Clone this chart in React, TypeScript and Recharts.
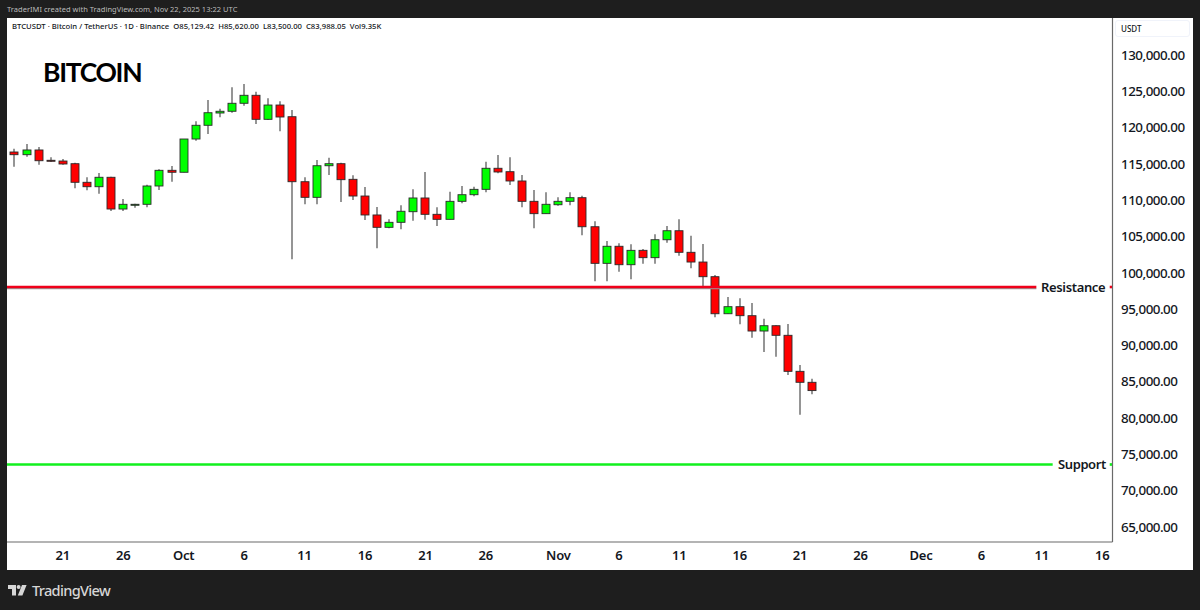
import React from "react";
import { ComposedChart, Bar, XAxis, YAxis, ReferenceLine } from "recharts";

const opens = [116840,116470,117120,115700,115600,115230,112670,112060,113360,108990,109580,109640,112160,114320,114050,118630,120520,122210,122450,123550,124650,121340,123310,121700,112750,110600,114950,115230,113080,110780,108170,106470,107160,108620,110510,108260,107570,110050,110960,111700,114600,114130,112850,110050,108350,109580,110050,110550,106550,101510,103860,101320,103300,102290,104760,106000,103030,101690,99670,94570,95540,94300,92190,92920,91600,86640,85129];
const highs = [117300,117940,117530,116110,115880,115370,113360,113950,113440,110370,109720,112340,114460,114910,118630,121070,124000,122800,125750,126200,125140,124240,123820,122620,113360,115740,116060,115370,113630,112020,109270,107570,109500,111700,114090,109230,111370,112160,112060,115510,116430,116110,113670,111610,111290,110600,111290,110820,107300,104590,104270,104130,103480,105510,106650,107570,105320,104170,99900,96870,96700,96050,93890,92980,93160,87510,85620];
const lows = [114820,116190,115090,115460,115090,111840,111570,111100,108720,108720,109170,109230,111610,112750,114050,118400,119320,121620,122250,123220,120700,121250,119690,102070,109640,109640,113670,109960,110230,107480,103580,106330,106200,107380,107520,106650,107570,109780,110740,111290,113910,112300,109230,106330,108350,109450,109500,105370,99040,99040,100360,99310,101460,101460,104350,102560,100830,98020,94080,94530,93110,91270,89300,88650,86130,80670,83500];
const closes = [116470,117120,115640,115600,115190,112670,112060,113360,108990,109640,109640,112160,114320,114050,118630,120520,122250,122450,123550,124650,121340,123310,121660,112750,110600,114950,115230,113030,110780,108170,106470,107160,108680,110510,108260,107570,110050,110960,111700,114600,114090,112850,110050,108350,109640,110050,110550,106550,101510,103860,101320,103300,102290,104760,106000,103030,101690,99670,94570,95540,94300,92190,92920,91600,86640,85129,83988];

const priceTicks = [65000,70000,75000,80000,85000,90000,95000,100000,105000,110000,115000,120000,125000,130000];
const dayTicks = [4,9,14,19,24,29,34,39,45,50,55,60,65,70,75,80,85,90];
const dayLabels = ["21","26","Oct","6","11","16","21","26","Nov","6","11","16","21","26","Dec","6","11","16"];

const resistanceLevel = 98250;
const supportLevel = 73810;
const legendText = "BTCUSDT · Bitcoin / TetherUS · 1D · Binance";
const legendValues = "O85,129.42  H85,620.00  L83,500.00  C83,988.05  Vol9.35K";

const rows = opens.map((o, i) => ({
  day: i,
  open: o,
  close: closes[i],
  high: highs[i],
  low: lows[i],
  range: [lows[i], highs[i]],
}));

const font = "'Noto Sans', sans-serif";

function Candle(props: any) {
  const { x, y, width, height, payload } = props;
  const { open, close, high, low } = payload;
  const k = height / (high - low);
  const cx = Math.round(x + width / 2);
  const top = y + (high - Math.max(open, close)) * k;
  const bot = y + (high - Math.min(open, close)) * k;
  const up = close >= open;
  return (
    <g>
      <line x1={cx} x2={cx} y1={y} y2={y + height} stroke="#5c5c5c" strokeWidth={1.3} />
      <rect
        x={cx - 4}
        y={top}
        width={8}
        height={Math.max(bot - top, 1)}
        fill={up ? "#00ff00" : "#ff0000"}
        stroke="#2a2a2a"
        strokeWidth={0.9}
      />
    </g>
  );
}

function PriceTick(props: any) {
  const { y, payload } = props;
  return (
    <text x={1121} y={y - 1.6} dy={4.8} fontSize={13.4} letterSpacing={-0.5} fontFamily={font} fill="#131722" fontWeight={500}>
      {payload.value.toLocaleString("en-US", { minimumFractionDigits: 2 })}
    </text>
  );
}

function DayTick(props: any) {
  const { x, y, payload } = props;
  const label = dayLabels[dayTicks.indexOf(payload.value)];
  return (
    <text x={x} y={y + 8} textAnchor="middle" fontSize={13} letterSpacing={-0.2} fontFamily={font} fill="#131722" fontWeight={600}>
      {label}
    </text>
  );
}

const abs = (left: number, top: number, extra: React.CSSProperties = {}): React.CSSProperties => ({
  position: "absolute",
  left,
  top,
  whiteSpace: "pre",
  fontFamily: font,
  lineHeight: 1,
  ...extra,
});

export default function App() {
  return (
    <div style={{ position: "absolute", left: 0, top: 0, width: 1200, height: 610, background: "#1e1e1e", overflow: "hidden" }}>
      <div style={{ position: "absolute", left: 7, top: 18, width: 1186, height: 552, background: "#fff" }} />
      <div style={abs(7, 6, { fontSize: 7.5, color: "#bcbcbc", letterSpacing: 0.02 })}>
        TraderIMI created with TradingView.com, Nov 22, 2025 13:22 UTC
      </div>
      <div style={{ position: "absolute", left: 0, top: 0 }}>
        <ComposedChart
          width={1200}
          height={610}
          data={rows}
          margin={{ top: 18, right: 7, bottom: 40, left: 7 }}
        >
          <XAxis
            dataKey="day"
            type="number"
            domain={[-0.62, 90.85]}
            allowDataOverflow
            ticks={dayTicks}
            interval={0}
            height={28}
            tick={<DayTick />}
            tickLine={false}
            tickMargin={4}
            axisLine={{ stroke: "#6a6a6a", strokeWidth: 1.2 }}
          />
          <YAxis
            orientation="right"
            type="number"
            domain={[63138, 135293]}
            allowDataOverflow
            ticks={priceTicks}
            interval={0}
            width={80.5}
            tick={<PriceTick />}
            tickLine={false}
            axisLine={{ stroke: "#6a6a6a", strokeWidth: 1.2 }}
          />
          <ReferenceLine
            segment={[{ x: -0.62, y: resistanceLevel - 220 }, { x: 84.55, y: resistanceLevel - 220 }]}
            stroke="#9a9a9a"
            strokeWidth={1.2}
          />
          <ReferenceLine
            segment={[{ x: -0.62, y: resistanceLevel }, { x: 84.55, y: resistanceLevel }]}
            stroke="#f0001a"
            strokeWidth={2.6}
          />
          <ReferenceLine
            segment={[{ x: 90.62, y: resistanceLevel }, { x: 90.85, y: resistanceLevel }]}
            stroke="#f0001a"
            strokeWidth={2.6}
          />
          <ReferenceLine
            segment={[{ x: -0.62, y: supportLevel }, { x: 85.9, y: supportLevel }]}
            stroke="#12f01e"
            strokeWidth={2.7}
          />
          <ReferenceLine
            segment={[{ x: 90.62, y: supportLevel }, { x: 90.85, y: supportLevel }]}
            stroke="#12f01e"
            strokeWidth={2.7}
          />
          <Bar dataKey="range" barSize={8} isAnimationActive={false} shape={<Candle />} />
        </ComposedChart>
      </div>
      <div style={abs(12, 23, { fontSize: 7.7, color: "#131722", fontWeight: 500 })}>
        {legendText}{"  "}{legendValues}
      </div>
      <div style={{ ...abs(43, 59, { fontSize: 26.5, color: "#000", fontWeight: 700, letterSpacing: -1.3 }), fontFamily: "Lato, sans-serif" }}>BITCOIN</div>
      <div style={{ position: "absolute", left: 1115, top: 20, width: 75, height: 17, border: "1px solid #f0f3fa", borderRadius: 3, boxSizing: "border-box" }} />
      <div style={abs(1121, 25, { fontSize: 8, color: "#131722", fontWeight: 500 })}>USDT</div>
      <div style={abs(1041, 280.5, { fontSize: 13, letterSpacing: -0.35, color: "#131722", fontWeight: 600 })}>Resistance</div>
      <div style={abs(1058, 458, { fontSize: 13, letterSpacing: -0.4, color: "#131722", fontWeight: 600 })}>Support</div>
      <svg style={{ position: "absolute", left: 8, top: 585 }} width={19} height={11} viewBox="0 0 19 11">
        <path d="M0 0H8V10.5H4V4H0Z" fill="#d6d6d6" />
        <circle cx={10.6} cy={2} r={2} fill="#d6d6d6" />
        <path d="M14 0H18.6L14.4 10.5H9.8Z" fill="#d6d6d6" />
      </svg>
      <div style={abs(32, 583, { fontSize: 14.6, letterSpacing: -0.7, color: "#d6d6d6", fontWeight: 500 })}>TradingView</div>
    </div>
  );
}
